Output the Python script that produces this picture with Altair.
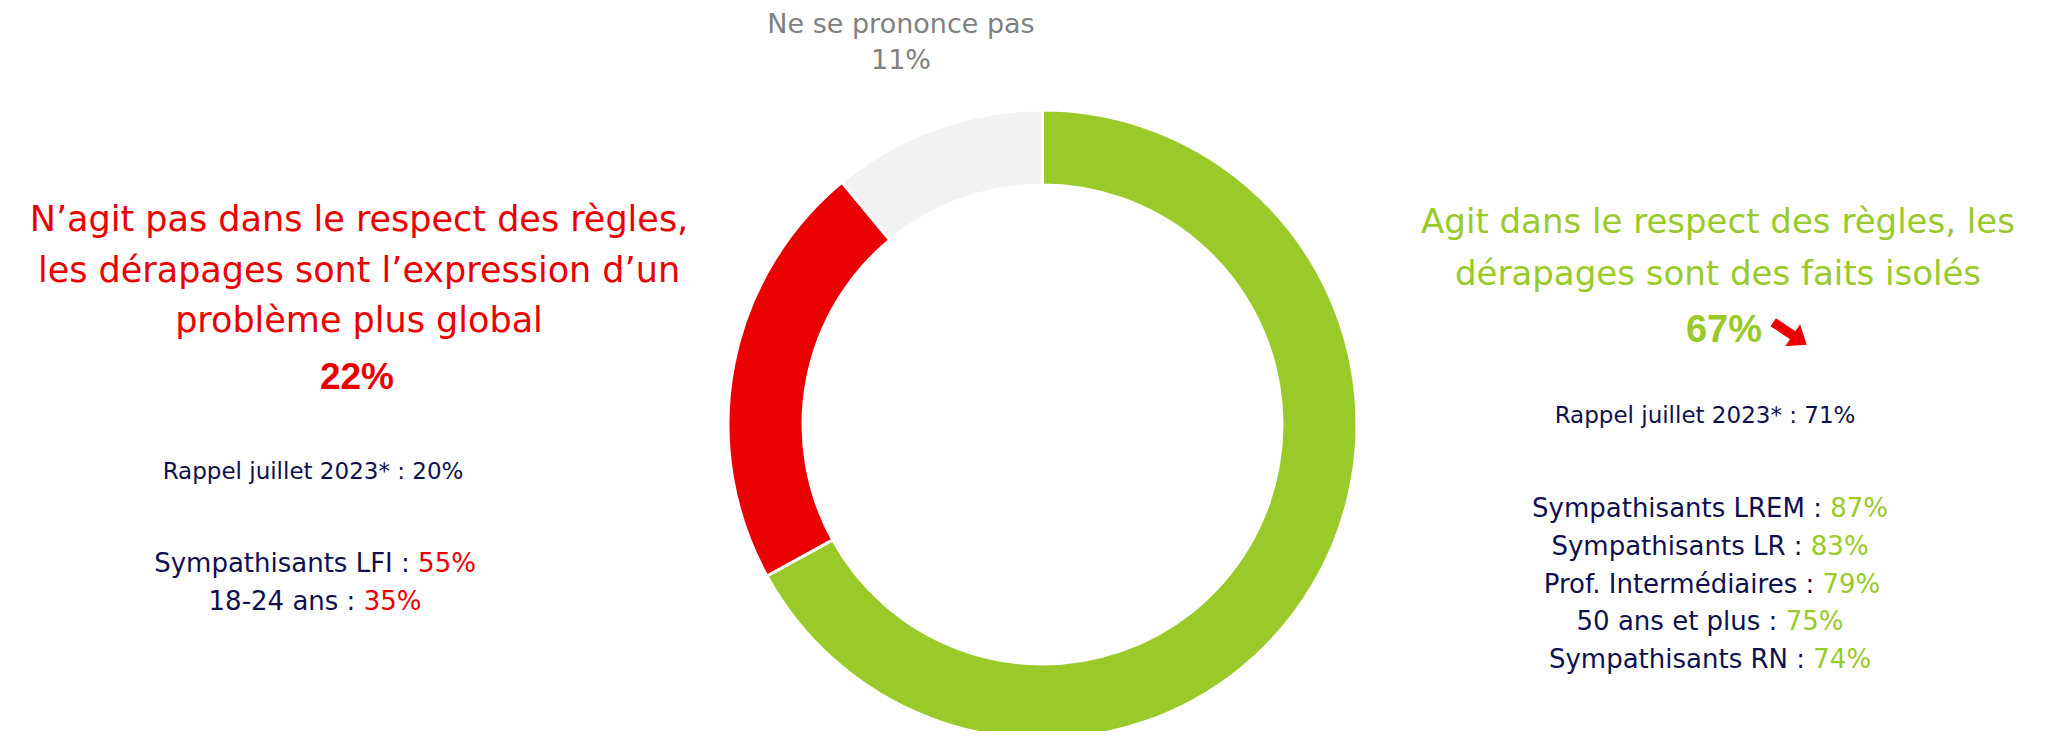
import altair as alt
import pandas as pd

# ---------------- data ----------------
categories = [
    "Agit dans le respect des règles, les dérapages sont des faits isolés",
    "N’agit pas dans le respect des règles, les dérapages sont l’expression d’un problème plus global",
    "Ne se prononce pas",
]
shares = [67, 22, 11]
slice_colors = ["#9ACA29", "#EA0000", "#F2F2F2"]

green_title = ["Agit dans le respect des règles, les", "dérapages sont des faits isolés"]
red_title = ["N’agit pas dans le respect des règles,", "les dérapages sont l’expression d’un", "problème plus global"]
gray_title = ["Ne se prononce pas"]

recall_label = "Rappel juillet 2023*"
recall_red = 20
recall_green = 71

red_groups = ["Sympathisants LFI", "18-24 ans"]
red_values = [55, 35]
green_groups = ["Sympathisants LREM", "Sympathisants LR", "Prof. Intermédiaires",
                "50 ans et plus", "Sympathisants RN"]
green_values = [87, 83, 79, 75, 74]

# ---------------- style / layout ----------------
GREEN, RED, GRAY_TXT, NAVY = "#9ACA29", "#EA0000", "#808080", "#10104E"
FONT = "DejaVu Sans"
BOLD_FONT = "Liberation Sans"
W, H = 2040, 723
CX, CY, R_OUT, R_IN = 1034.5, 416.5, 314.5, 239.5

# approximate DejaVu Sans advance widths (em) for centering two-colour lines
CW = {" ": .318, "S": .635, "y": .592, "m": .974, "p": .635, "a": .613, "t": .392, "h": .634,
      "i": .278, "s": .521, "n": .634, "L": .557, "F": .575, "I": .295, "R": .695, "E": .632,
      "M": .863, "N": .748, "P": .603, "r": .411, "o": .612, "f": .352, ".": .318, "é": .615,
      "e": .615, "d": .635, "l": .278, "u": .634, ":": .337, "-": .361, "%": .950}


def tw(s, fs):
    return sum(CW.get(c, .636) for c in s) * fs


def lines_layer(lines, cx, y0, dy, color, size, font=FONT, weight="normal"):
    df = pd.DataFrame({"text": lines, "y": [y0 + i * dy for i in range(len(lines))]})
    return alt.Chart(df).mark_text(
        align="center", baseline="alphabetic", font=font, fontSize=size,
        fontWeight=weight, color=color
    ).encode(x=alt.value(cx), y=alt.Y("y:Q", scale=None, axis=None), text="text:N")


def two_colour_layers(groups, values, cx, y0, dy, vcolor, fs=26):
    rows = []
    space = tw(" ", fs)
    for i, (g, v) in enumerate(zip(groups, values)):
        lab, val = f"{g} :", f"{v}%"
        left = cx - tw(lab + " " + val, fs) / 2
        split = left + tw(lab, fs)
        rows.append({"label": lab, "value": val, "xl": split,
                     "xv": split + space, "y": y0 + i * dy})
    df = pd.DataFrame(rows)
    lab_layer = alt.Chart(df).mark_text(
        align="right", baseline="alphabetic", font=FONT, fontSize=fs, color=NAVY
    ).encode(x=alt.X("xl:Q", scale=None, axis=None), y=alt.Y("y:Q", scale=None, axis=None), text="label:N")
    val_layer = alt.Chart(df).mark_text(
        align="left", baseline="alphabetic", font=FONT, fontSize=fs, color=vcolor
    ).encode(x=alt.X("xv:Q", scale=None, axis=None), y=alt.Y("y:Q", scale=None, axis=None), text="value:N")
    return [lab_layer, val_layer]


# ---------------- donut ----------------
donut_df = pd.DataFrame({"category": categories, "share": shares, "rank": list(range(len(shares)))})
donut = alt.Chart(donut_df).mark_arc(
    innerRadius=R_IN, outerRadius=R_OUT, stroke="white", strokeWidth=3
).encode(
    theta=alt.Theta("share:Q", stack=True),
    order=alt.Order("rank:Q"),
    color=alt.Color("category:N", scale=alt.Scale(domain=categories, range=slice_colors), legend=None),
    x=alt.value(CX), y=alt.value(CY),
)

layers = [donut]

# top (gray)
layers.append(lines_layer(gray_title + [f"{shares[2]}%"], 893, 25, 36, GRAY_TXT, 27))

# left (red)
layers.append(lines_layer(red_title, 351, 223, 50.5, RED, 35))
layers.append(lines_layer([f"{shares[1]}%"], 349, 381, 0, RED, 37, font=BOLD_FONT, weight="bold"))
layers.append(lines_layer([f"{recall_label} : {recall_red}%"], 305, 471, 0, NAVY, 23))
layers += two_colour_layers(red_groups, red_values, 307, 564, 38, RED)

# right (green)
layers.append(lines_layer(green_title, 1710, 225, 52, GREEN, 34))
layers.append(lines_layer([f"{shares[0]}%"], 1716, 334, 0, GREEN, 38, font=BOLD_FONT, weight="bold"))
layers.append(lines_layer([f"{recall_label} : {recall_green}%"], 1697, 415, 0, NAVY, 23))
layers += two_colour_layers(green_groups, green_values, 1702, 509, 37.8, GREEN)

# trend arrow (down)
arrow_df = pd.DataFrame({"trend": ["down"]})
arrow = alt.Chart(arrow_df).mark_point(
    shape="M-0.12,0.5L0.12,0.5L0.12,-0.08L0.33,-0.08L0,-0.5L-0.33,-0.08L-0.12,-0.08Z",
    filled=True, color=RED, opacity=1, size=6500, angle=124, strokeWidth=0
).encode(x=alt.value(1782), y=alt.value(325.5))
layers.append(arrow)

chart = alt.layer(*layers).properties(
    width=W, height=H, padding=0, background="white", autosize="none"
).configure_view(stroke=None)

chart.save("out.html", embed_options={"renderer": "svg", "actions": False})
